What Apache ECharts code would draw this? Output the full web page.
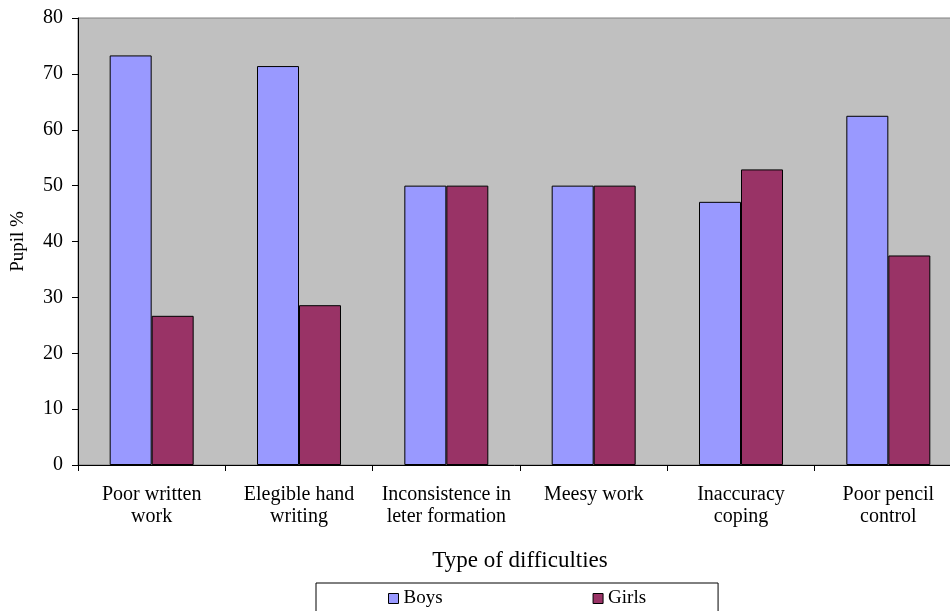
<!DOCTYPE html>
<html><head><meta charset="utf-8">
<script src="https://cdn.jsdelivr.net/npm/echarts@6/dist/echarts.min.js"></script>
<style>html,body{margin:0;padding:0;background:#fff}#c{width:950px;height:611px}</style>
</head><body><div id="c"></div>
<script>
const categories = ["Poor written\nwork", "Elegible hand\nwriting", "Inconsistence in\nleter formation", "Meesy work", "Inaccuracy\ncoping", "Poor pencil\ncontrol"];
const boys = [73.3, 71.4, 50, 50, 47.1, 62.5];
const girls = [26.7, 28.6, 50, 50, 52.9, 37.5];
const yTicks = [0, 10, 20, 30, 40, 50, 60, 70, 80];

const font = "Liberation Serif";
const chart = echarts.init(document.getElementById('c'));
chart.setOption({
  animation: false,
  textStyle: { fontFamily: font, color: '#000' },
  grid: { left: 78, top: 18, width: 884, bottom: 146, outerBoundsMode: 'none', containLabel: false,
    show: true, backgroundColor: '#C0C0C0', borderColor: '#808080', borderWidth: 1 },
  legend: {
    left: 316, top: 583,
    padding: [6, 72, 20, 72],
    itemGap: 150, itemWidth: 10, itemHeight: 10,
    icon: 'rect',
    borderColor: '#000', borderWidth: 1,
    textStyle: { fontFamily: font, fontSize: 19, color: '#000' },
    itemStyle: { borderColor: '#000', borderWidth: 1 }
  },
  xAxis: {
    type: 'category', data: categories,
    name: 'Type of difficulties', nameLocation: 'middle', nameGap: 84,
    nameTextStyle: { fontFamily: font, fontSize: 23, color: '#000' },
    axisLine: { lineStyle: { color: '#000', width: 1 } },
    axisTick: { show: true, inside: false, length: 6, lineStyle: { color: '#000' }, alignWithLabel: false },
    axisLabel: { fontFamily: font, fontSize: 20, color: '#000', margin: 19, lineHeight: 22, interval: 0 }
  },
  yAxis: {
    type: 'value', min: 0, max: 80, interval: 10,
    name: 'Pupil %', nameLocation: 'middle', nameGap: 50,
    nameTextStyle: { fontFamily: font, fontSize: 19, color: '#000' },
    axisLine: { show: true, lineStyle: { color: '#000', width: 1 } },
    axisTick: { show: true, length: 6, lineStyle: { color: '#000' } },
    axisLabel: { fontFamily: font, fontSize: 20, color: '#000', margin: 15,
      formatter: v => yTicks.includes(v) ? String(v) : '' },
    splitLine: { show: false }
  },
  series: [
    { name: 'Boys', type: 'bar', data: boys, barGap: '0%', barCategoryGap: '43%',
      itemStyle: { color: '#9999FF', borderColor: '#000', borderWidth: 1 } },
    { name: 'Girls', type: 'bar', data: girls, barGap: '0%', barCategoryGap: '43%',
      itemStyle: { color: '#993366', borderColor: '#000', borderWidth: 1 } }
  ]
});
</script></body></html>
